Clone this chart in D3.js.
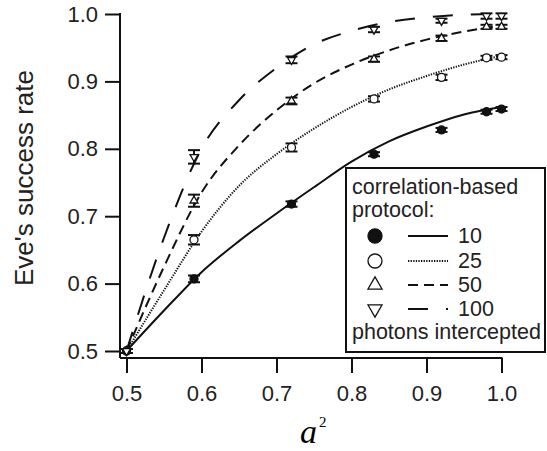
<!DOCTYPE html>
<html>
<head>
<meta charset="utf-8">
<script src="https://cdn.jsdelivr.net/npm/d3@7"></script>
<style>
  body { margin: 0; background: #fff; }
  svg { display: block; font-family: "Liberation Sans", Arial, sans-serif; }
</style>
</head>
<body>
<div id="chart"></div>
<script>
// measured points (a^2 on x)
var xPts = [0.5, 0.59, 0.72, 0.83, 0.92, 0.98, 1.0];
var y10 = [0.5, 0.607, 0.718, 0.792, 0.828, 0.855, 0.859];
var y25 = [0.5, 0.665, 0.802, 0.874, 0.906, 0.935, 0.936];
var y50 = [0.5, 0.723, 0.871, 0.933, 0.964, 0.981, 0.981];
var y100 = [0.5, 0.788, 0.932, 0.977, 0.99, 0.997, 0.997];
var err10 = [0.003, 0.005, 0.004, 0.003, 0.003, 0.003, 0.003];
var err25 = [0.003, 0.007, 0.006, 0.004, 0.004, 0.003, 0.003];
var err50 = [0.003, 0.009, 0.005, 0.004, 0.004, 0.003, 0.003];
var err100 = [0.003, 0.01, 0.005, 0.004, 0.003, 0.004, 0.004];

// theory curves
var xCurve = [0.5, 0.55, 0.6, 0.65, 0.7, 0.75, 0.8, 0.85, 0.9, 0.95, 1.0];
var c10 = [0.5, 0.56, 0.617, 0.663, 0.704, 0.743, 0.781, 0.811, 0.833, 0.851, 0.862];
var c25 = [0.5, 0.59, 0.677, 0.745, 0.792, 0.83, 0.862, 0.888, 0.908, 0.925, 0.938];
var c50 = [0.5, 0.625, 0.735, 0.805, 0.857, 0.897, 0.925, 0.946, 0.962, 0.974, 0.983];
var c100 = [0.5, 0.668, 0.8, 0.872, 0.92, 0.955, 0.975, 0.988, 0.995, 0.999, 1.0];

var xTicks = [0.5, 0.6, 0.7, 0.8, 0.9, 1.0];
var yTicks = [0.5, 0.6, 0.7, 0.8, 0.9, 1.0];
var legendLabels = ["10", "25", "50", "100"];

var width = 547, height = 451;

var svg = d3.select("#chart").append("svg")
  .attr("width", width)
  .attr("height", height);

var xScale = d3.scaleLinear().domain([0.5, 1.0]).range([126.5, 501.5]);
var yScale = d3.scaleLinear().domain([0.5, 1.0]).range([351, 14]);

var axisX = 120, axisY = 358;

// axes (ticks from d3, axis lines drawn separately)
var xAxis = d3.axisBottom(xScale).tickValues(xTicks).tickSize(15).tickPadding(12)
  .tickFormat(d3.format(".1f"));
var yAxis = d3.axisLeft(yScale).tickValues(yTicks).tickSize(15).tickPadding(7)
  .tickFormat(d3.format(".1f"));

var gx = svg.append("g").attr("transform", "translate(0," + axisY + ")").call(xAxis);
var gy = svg.append("g").attr("transform", "translate(" + axisX + ",0)").call(yAxis);
[gx, gy].forEach(function(g) {
  g.select(".domain").remove();
  g.selectAll("line").attr("stroke", "#111").attr("stroke-width", 2);
  g.selectAll("text").attr("fill", "#222").style("font-size", "22px")
    .style("font-family", "Liberation Sans, Arial, sans-serif");
});

svg.append("line").attr("x1", axisX).attr("x2", xScale(1.0) + 1)
  .attr("y1", axisY).attr("y2", axisY).attr("stroke", "#111").attr("stroke-width", 2);
svg.append("line").attr("x1", axisX).attr("x2", axisX)
  .attr("y1", yScale(1.0) - 1).attr("y2", axisY).attr("stroke", "#111").attr("stroke-width", 2);

// axis titles
svg.append("text")
  .attr("transform", "translate(33,178) rotate(-90)")
  .attr("text-anchor", "middle")
  .style("font-size", "26px")
  .attr("fill", "#222")
  .text("Eve's success rate");

var xt = svg.append("g");
xt.append("text").attr("x", 300).attr("y", 443)
  .style("font-family", "Liberation Serif, Times New Roman, serif")
  .style("font-style", "italic").style("font-size", "34px").text("a");
xt.append("text").attr("x", 319).attr("y", 427)
  .style("font-family", "Liberation Serif, Times New Roman, serif")
  .style("font-size", "15px").text("2");

// curves
var series = [
  { curve: c10, pts: y10, err: err10, dash: null, marker: "fill" },
  { curve: c25, pts: y25, err: err25, dash: "1.3,1.3", marker: "circle" },
  { curve: c50, pts: y50, err: err50, dash: "10,6", marker: "up" },
  { curve: c100, pts: y100, err: err100, dash: "20,18", marker: "down" }
];

var line = d3.line()
  .x(function(d) { return xScale(d[0]); })
  .y(function(d) { return yScale(d[1]); })
  .curve(d3.curveMonotoneX);

series.forEach(function(s) {
  svg.append("path")
    .datum(xCurve.map(function(x, i) { return [x, s.curve[i]]; }))
    .attr("d", line)
    .attr("fill", "none")
    .attr("stroke", "#111")
    .attr("stroke-width", 2)
    .attr("stroke-dasharray", s.dash);
});

function drawMarker(g, type, size) {
  if (type === "fill" || type === "circle") {
    g.append("circle").attr("r", size / 2)
      .attr("fill", type === "fill" ? "#111" : "#fff")
      .attr("stroke", "#111").attr("stroke-width", 1.3);
  } else {
    var area = Math.sqrt(3) / 4 * size * size;
    g.append("path")
      .attr("d", d3.symbol().type(d3.symbolTriangle).size(area)())
      .attr("transform", type === "down" ? "rotate(180)" : null)
      .attr("fill", "#fff").attr("stroke", "#111").attr("stroke-width", 1.3);
  }
}

// data points with error bars
series.forEach(function(s) {
  xPts.forEach(function(x, i) {
    var cx = xScale(x), cy = yScale(s.pts[i]);
    var top = yScale(s.pts[i] + s.err[i]), bot = yScale(s.pts[i] - s.err[i]);
    var g = svg.append("g");
    g.append("line").attr("x1", cx).attr("x2", cx).attr("y1", top).attr("y2", bot)
      .attr("stroke", "#111").attr("stroke-width", 2);
    [top, bot].forEach(function(yy) {
      g.append("line").attr("x1", cx - 6).attr("x2", cx + 6).attr("y1", yy).attr("y2", yy)
        .attr("stroke", "#111").attr("stroke-width", 2);
    });
    var m = g.append("g").attr("transform", "translate(" + cx + "," + cy + ")");
    drawMarker(m, s.marker, 8);
  });
});

// legend
var lg = svg.append("g");
lg.append("rect").attr("x", 346).attr("y", 168).attr("width", 199).attr("height", 184)
  .attr("fill", "#fff").attr("stroke", "#111").attr("stroke-width", 2);
lg.append("text").attr("x", 352).attr("y", 194).style("font-size", "21.5px").attr("fill", "#222")
  .text("correlation-based");
lg.append("text").attr("x", 352).attr("y", 217).style("font-size", "21.5px").attr("fill", "#222")
  .text("protocol:");
var rowY = [236, 261, 285, 309];
series.forEach(function(s, i) {
  var m = lg.append("g").attr("transform", "translate(375," + rowY[i] + ")");
  drawMarker(m, s.marker, 14);
  lg.append("line").attr("x1", 408).attr("x2", 448)
    .attr("y1", rowY[i]).attr("y2", rowY[i])
    .attr("stroke", "#111").attr("stroke-width", 2)
    .attr("stroke-dasharray", s.dash);
  lg.append("text").attr("x", 458).attr("y", rowY[i] + 7).style("font-size", "21.5px")
    .attr("fill", "#222").text(legendLabels[i]);
});
lg.append("text").attr("x", 352).attr("y", 339).style("font-size", "21.5px").attr("fill", "#222")
  .text("photons intercepted");
</script>
</body>
</html>
